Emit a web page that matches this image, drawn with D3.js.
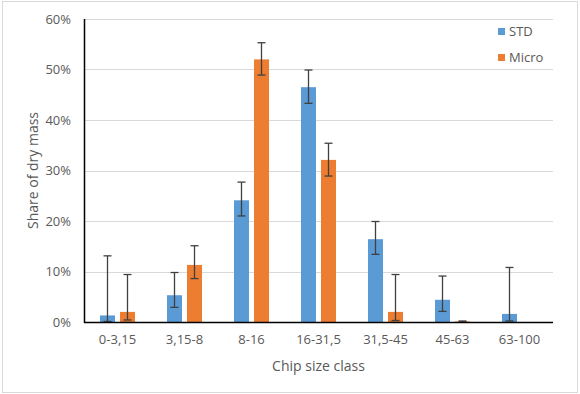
<!DOCTYPE html>
<html>
<head>
<meta charset="utf-8">
<script src="https://cdn.jsdelivr.net/npm/d3@7"></script>
<style>
  body { margin: 0; background: #fff; }
  svg text { font-family: "Open Sans", "Noto Sans", sans-serif; fill: #595959; }
</style>
</head>
<body>
<svg id="chart" width="580" height="394"></svg>
<script>
// chip size classes and shares (%)
var categories = ['0-3,15', '3,15-8', '8-16', '16-31,5', '31,5-45', '45-63', '63-100'];
var seriesNames = ['STD', 'Micro'];
var stdValues   = [1.3, 5.3, 24.1, 46.5, 16.4, 4.4, 1.6];
var stdLow      = [0.1, 2.9, 21.0, 43.3, 13.4, 2.1, 0.2];
var stdHigh     = [13.1, 9.8, 27.7, 49.9, 19.9, 9.1, 10.8];
var microValues = [2.0, 11.3, 52.0, 32.1, 2.0, 0.1, 0];
var microLow    = [0.4, 8.6, 48.9, 28.9, 0.3, 0.0, null];
var microHigh   = [9.4, 15.1, 55.3, 35.4, 9.4, 0.2, null];
var yTicks = [0, 10, 20, 30, 40, 50, 60];

var colors = { STD: '#5b9bd5', Micro: '#ed7d31' };

var svg = d3.select('#chart');
var margin = { left: 84, right: 27, top: 19, bottom: 72 };
var W = 580, H = 394;
var plotW = W - margin.left - margin.right, plotH = H - margin.top - margin.bottom;

// chart frame
svg.append('rect').attr('x', 2.5).attr('y', 1.5).attr('width', 575).attr('height', 391)
	.attr('fill', '#fff').attr('stroke', '#d9d9d9');

var g = svg.append('g').attr('transform', 'translate(' + margin.left + ',' + margin.top + ')');

var x = d3.scaleBand().domain(categories).range([0, plotW]);
var y = d3.scaleLinear().domain([0, 60]).range([plotH, 0]);

// gridlines
g.selectAll('line.grid').data(yTicks.slice(1)).enter().append('line')
	.attr('class', 'grid')
	.attr('x1', 0).attr('x2', plotW)
	.attr('y1', function(d) { return Math.round(y(d)) + 0.5; })
	.attr('y2', function(d) { return Math.round(y(d)) + 0.5; })
	.attr('stroke', '#d9d9d9').attr('stroke-width', 1);

// y axis labels
var yAxis = g.append('g').call(d3.axisLeft(y).tickValues(yTicks).tickFormat(function(d) { return d + '%'; }).tickSize(0).tickPadding(13));
yAxis.select('.domain').remove();
yAxis.selectAll('text').attr('font-size', 13).style('fill', '#595959');

// x axis labels
var xAxis = g.append('g').attr('transform', 'translate(0,' + plotH + ')')
	.call(d3.axisBottom(x).tickSize(0).tickPadding(13));
xAxis.select('.domain').remove();
xAxis.selectAll('text').attr('font-size', 13).style('fill', '#595959');

var barW = 15, gap = 5;
var series = [
	{ name: 'STD', values: stdValues, low: stdLow, high: stdHigh, offset: -(gap / 2 + barW) },
	{ name: 'Micro', values: microValues, low: microLow, high: microHigh, offset: gap / 2 }
];

series.forEach(function(s) {
	var rows = categories.map(function(c, i) {
		return { cat: c, v: s.values[i], lo: s.low[i], hi: s.high[i] };
	});
	var cx = function(d) { return x(d.cat) + x.bandwidth() / 2 + s.offset; };
	g.selectAll('rect.bar-' + s.name).data(rows.filter(function(d) { return d.v > 0; })).enter().append('rect')
		.attr('x', cx)
		.attr('y', function(d) { return y(d.v); })
		.attr('width', barW)
		.attr('height', function(d) { return plotH - y(d.v); })
		.attr('fill', colors[s.name]);

	var eb = g.selectAll('g.err-' + s.name).data(rows.filter(function(d) { return d.lo !== null; })).enter().append('g')
		.attr('stroke', '#404040').attr('stroke-width', 1.3);
	eb.append('line')
		.attr('x1', function(d) { return cx(d) + barW / 2; }).attr('x2', function(d) { return cx(d) + barW / 2; })
		.attr('y1', function(d) { return y(d.lo); }).attr('y2', function(d) { return y(d.hi); });
	['lo', 'hi'].forEach(function(k) {
		eb.append('line')
			.attr('x1', function(d) { return cx(d) + barW / 2 - 4; }).attr('x2', function(d) { return cx(d) + barW / 2 + 4; })
			.attr('y1', function(d) { return y(d[k]); }).attr('y2', function(d) { return y(d[k]); });
	});
});

// axis lines
g.append('line').attr('x1', 0.5).attr('x2', 0.5).attr('y1', 0).attr('y2', plotH + 1)
	.attr('stroke', '#000').attr('stroke-width', 1.5);
g.append('line').attr('x1', 0).attr('x2', plotW).attr('y1', plotH + 0.5).attr('y2', plotH + 0.5)
	.attr('stroke', '#000').attr('stroke-width', 1.5);

// axis titles
svg.append('text').attr('x', margin.left + plotW / 2).attr('y', 371)
	.attr('text-anchor', 'middle').attr('font-size', 14).text('Chip size class');
svg.append('text').attr('transform', 'translate(38,' + (margin.top + plotH / 2) + ') rotate(-90)')
	.attr('text-anchor', 'middle').attr('font-size', 14).text('Share of dry mass');

// legend
var legend = svg.append('g').attr('transform', 'translate(498,28)');
seriesNames.forEach(function(n, i) {
	legend.append('rect').attr('x', 0).attr('y', i * 26).attr('width', 7).attr('height', 7).attr('fill', colors[n]);
	legend.append('text').attr('x', 11).attr('y', i * 26 + 8).attr('font-size', 13).text(n);
});
</script>
</body>
</html>
